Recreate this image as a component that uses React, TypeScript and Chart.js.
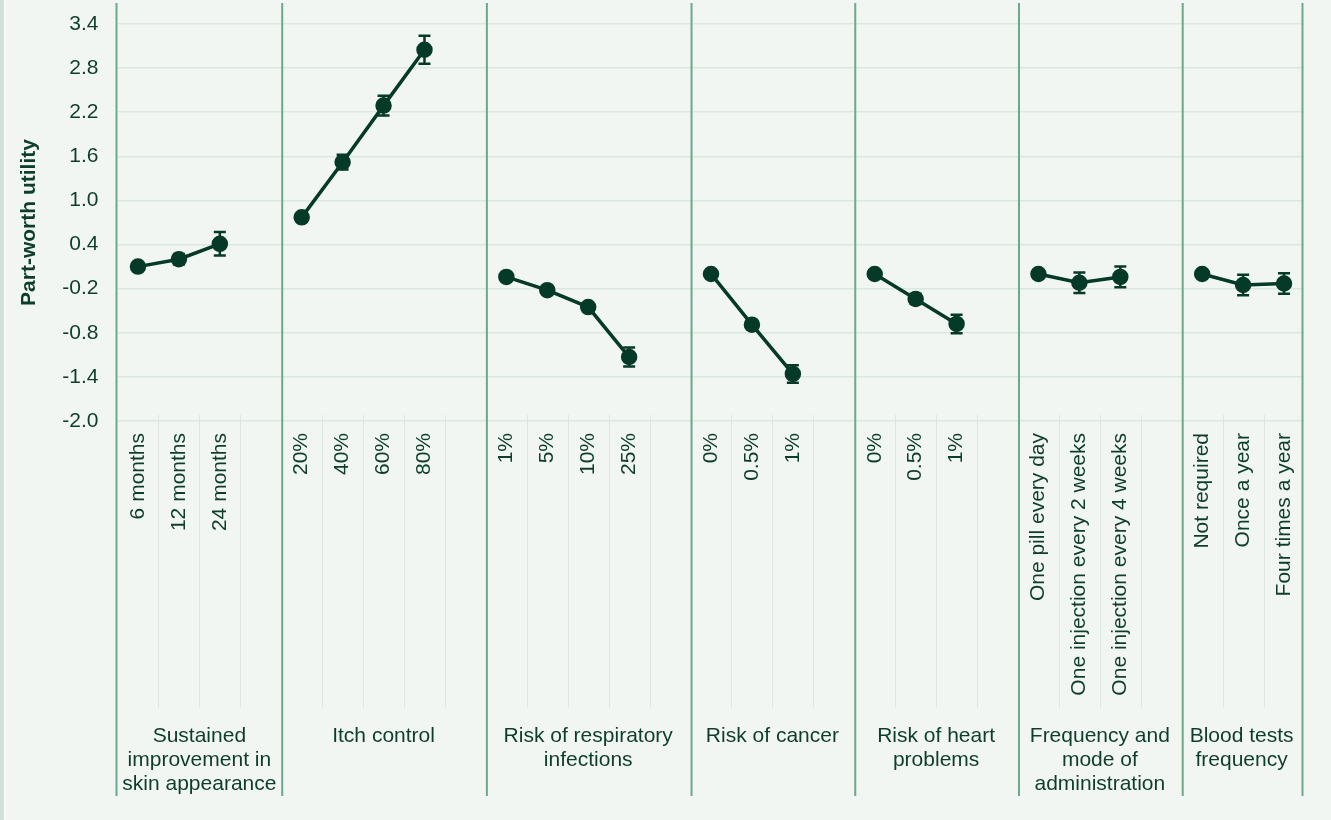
import React, { useEffect, useRef } from 'react';
import { Chart, registerables } from 'chart.js';

Chart.register(...registerables);

// ---------- data ----------
const groupNames: string[][] = [
  ['Sustained', 'improvement in', 'skin appearance'],
  ['Itch control'],
  ['Risk of respiratory', 'infections'],
  ['Risk of cancer'],
  ['Risk of heart', 'problems'],
  ['Frequency and', 'mode of', 'administration'],
  ['Blood tests', 'frequency'],
];

const levelLabels: string[][] = [
  ['6 months', '12 months', '24 months'],
  ['20%', '40%', '60%', '80%'],
  ['1%', '5%', '10%', '25%'],
  ['0%', '0.5%', '1%'],
  ['0%', '0.5%', '1%'],
  ['One pill every day', 'One injection every 2 weeks', 'One injection every 4 weeks'],
  ['Not required', 'Once a year', 'Four times a year'],
];

const utilities: number[][] = [
  [0.1, 0.2, 0.41],
  [0.77, 1.52, 2.29, 3.05],
  [-0.04, -0.22, -0.45, -1.13],
  [0.0, -0.69, -1.36],
  [0.0, -0.34, -0.68],
  [0.0, -0.12, -0.04],
  [0.0, -0.15, -0.13],
];

const errors: number[][] = [
  [0, 0.07, 0.16],
  [0, 0.1, 0.135, 0.19],
  [0, 0.02, 0.03, 0.13],
  [0, 0.06, 0.12],
  [0, 0.07, 0.125],
  [0, 0.14, 0.14],
  [0, 0.14, 0.14],
];

const yTickValues = [-2.0, -1.4, -0.8, -0.2, 0.4, 1.0, 1.6, 2.2, 2.8, 3.4];

// ---------- styles ----------
const BG = '#f2f6f3';
const TEXT = '#0d3d2c';
const MARK = '#043a27';
const GRID = '#dbe7e0';
const GROUP_LINE = '#6aa98a';
const FONT = "'Liberation Sans', Arial, sans-serif";

// ---------- built tables ----------
const labels: string[] = [];
const values: (number | null)[] = [];
const errs: (number | null)[] = [];
const groupStarts: number[] = [];
levelLabels.forEach((lv, g) => {
  groupStarts.push(labels.length);
  lv.forEach((l, i) => {
    labels.push(l);
    values.push(utilities[g][i]);
    errs.push(errors[g][i]);
  });
  if (g < levelLabels.length - 1) {
    labels.push('');
    values.push(null);
    errs.push(null);
  }
});
const groupEnds = groupStarts.slice(1).concat([labels.length]);

const decorPlugin = {
  id: 'decor',
  beforeDraw(chart: any) {
    const { ctx, chartArea, scales } = chart;
    const x = scales.x;
    const half = (x.getPixelForValue(1) - x.getPixelForValue(0)) / 2;
    ctx.save();
    ctx.strokeStyle = GRID;
    ctx.lineWidth = 1;
    for (let i = 1; i < labels.length; i++) {
      if (groupStarts.includes(i)) continue;
      const bx = Math.round(x.getPixelForValue(i) - half) + 0.5;
      ctx.beginPath();
      ctx.moveTo(bx, chartArea.bottom - 6);
      ctx.lineTo(bx, 708);
      ctx.stroke();
    }
    ctx.restore();
  },
  beforeDatasetsDraw(chart: any) {
    const { ctx, chartArea, scales } = chart;
    const x = scales.x;
    const half = (x.getPixelForValue(1) - x.getPixelForValue(0)) / 2;
    ctx.save();
    ctx.strokeStyle = GROUP_LINE;
    ctx.lineWidth = 2;
    const bounds = groupStarts.map((s) => x.getPixelForValue(s) - half);
    bounds.push(chartArea.right - 3);
    bounds.forEach((bx, i) => {
      const px = i === 0 ? bx - 1 : bx + 1;
      ctx.beginPath();
      ctx.moveTo(px, 3);
      ctx.lineTo(px, 796);
      ctx.stroke();
    });
    ctx.restore();
  },
  afterDatasetsDraw(chart: any) {
    const { ctx, scales } = chart;
    const x = scales.x;
    const y = scales.y;
    ctx.save();
    ctx.strokeStyle = MARK;
    ctx.lineWidth = 2.5;
    values.forEach((v, i) => {
      const e = errs[i];
      if (v === null || e === null || e <= 0) return;
      const px = x.getPixelForValue(i);
      const yt = y.getPixelForValue(v + e);
      const yb = y.getPixelForValue(v - e);
      ctx.beginPath();
      ctx.moveTo(px, yt);
      ctx.lineTo(px, yb);
      ctx.moveTo(px - 6, yt);
      ctx.lineTo(px + 6, yt);
      ctx.moveTo(px - 6, yb);
      ctx.lineTo(px + 6, yb);
      ctx.stroke();
    });
    ctx.restore();
  },
  afterDraw(chart: any) {
    const { ctx, chartArea, scales } = chart;
    const x = scales.x;
    const half = (x.getPixelForValue(1) - x.getPixelForValue(0)) / 2;
    ctx.save();
    ctx.fillStyle = TEXT;
    ctx.font = `21px ${FONT}`;
    ctx.textAlign = 'center';
    ctx.textBaseline = 'alphabetic';
    groupNames.forEach((lines, g) => {
      const left = x.getPixelForValue(groupStarts[g]) - half;
      const right = g === groupNames.length - 1 ? chartArea.right - 3 : x.getPixelForValue(groupEnds[g]) - half;
      const cx = (left + right) / 2;
      lines.forEach((t, k) => {
        ctx.fillText(t, cx, 742 + k * 24);
      });
    });
    ctx.restore();
  },
};

export default function App() {
  const ref = useRef<HTMLCanvasElement | null>(null);

  useEffect(() => {
    document.body.style.margin = '0';
    document.body.style.background = BG;
    if (!ref.current) return;
    Chart.defaults.font.family = FONT;
    const chart = new Chart(ref.current, {
      type: 'line',
      data: {
        labels,
        datasets: [
          {
            data: values,
            borderColor: MARK,
            backgroundColor: MARK,
            borderWidth: 3.5,
            pointRadius: 6.5,
            pointHoverRadius: 6.5,
            pointBackgroundColor: MARK,
            pointBorderColor: MARK,
            spanGaps: false,
            tension: 0,
          },
        ],
      },
      options: {
        responsive: false,
        animation: false,
        layout: { padding: { top: 24, right: 26.5, bottom: 0, left: 0 } },
        plugins: {
          legend: { display: false },
          tooltip: { enabled: false },
        },
        scales: {
          x: {
            type: 'category',
            offset: true,
            grid: { display: false, drawTicks: false },
            border: { display: false },
            ticks: {
              autoSkip: false,
              minRotation: 90,
              maxRotation: 90,
              padding: 12,
              color: TEXT,
              font: { size: 21, family: FONT },
            },
            afterFit(scale: any) {
              scale.height = 399;
              scale.paddingLeft = 0;
              scale.paddingRight = 0;
            },
          },
          y: {
            min: -2.0,
            max: 3.4,
            afterBuildTicks(scale: any) {
              scale.ticks = yTickValues.map((v) => ({ value: v }));
            },
            grid: { color: GRID, lineWidth: 1.5, drawTicks: false },
            border: { display: false },
            ticks: {
              padding: 19,
              color: TEXT,
              font: { size: 21, family: FONT },
              callback: (v: any) => Number(v).toFixed(1),
            },
            title: {
              display: true,
              text: 'Part-worth utility',
              color: TEXT,
              font: { size: 21, weight: 'bold', family: FONT },
              padding: { top: 17, bottom: 0 },
            },
            afterFit(scale: any) {
              scale.width = 117.5;
              scale.paddingTop = 0;
              scale.paddingBottom = 0;
            },
          },
        },
      },
      plugins: [decorPlugin],
    });
    return () => chart.destroy();
  }, []);

  return (
    <div style={{ position: 'relative', width: 1331, height: 820, background: BG, overflow: 'hidden' }}>
      <div style={{ position: 'absolute', left: 0, top: 0, width: 4, height: 820, background: '#cfe1d8' }} />
      <div style={{ position: 'absolute', left: 4, top: 0, width: 1, height: 820, background: '#ffffff' }} />
      <canvas ref={ref} width={1331} height={820} style={{ position: 'absolute', left: 0, top: 0 }} />
    </div>
  );
}
